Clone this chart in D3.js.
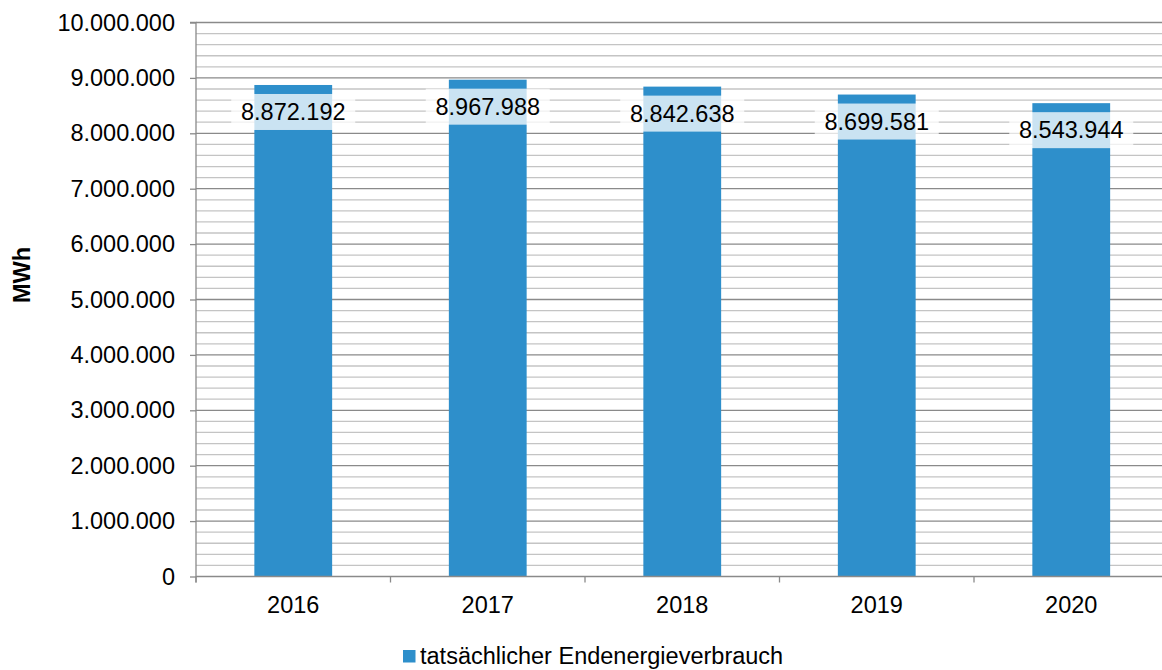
<!DOCTYPE html>
<html>
<head>
<meta charset="utf-8">
<script src="https://cdn.jsdelivr.net/npm/d3@7"></script>
<style>
  html, body { margin: 0; padding: 0; background: #fff; overflow: hidden; }
  svg { display: block; font-family: "Liberation Sans", Arial, sans-serif; }
</style>
</head>
<body>
<svg id="chart" width="1162" height="670"></svg>
<script>
// Endenergieverbrauch je Jahr (MWh)
const years = ["2016", "2017", "2018", "2019", "2020"];
const consumption = [8872192, 8967988, 8842638, 8699581, 8543944];
const yTicks = [0, 1000000, 2000000, 3000000, 4000000, 5000000, 6000000, 7000000, 8000000, 9000000, 10000000];
const seriesName = "tatsächlicher Endenergieverbrauch";
const unitLabel = "MWh";

const svg = d3.select("#chart");
const plotLeft = 196, plotRight = 1168.5, plotTop = 22.5, plotBottom = 576.5;
const fontSize = 23.5;
const barColor = "#2E8FCB";

const x = d3.scaleBand().domain(years).range([plotLeft, plotRight]).paddingInner(0.6).paddingOuter(0.3);
const y = d3.scaleLinear().domain([0, 10000000]).range([plotBottom, plotTop]);

const fmt = d3.formatLocale({ decimal: ",", thousands: ".", grouping: [3], currency: ["", "€"] }).format(",.0f");

// minor gridlines every 200.000
const minor = d3.range(0, 10000001, 200000).filter(v => v % 1000000 !== 0);
svg.append("g").selectAll("line").data(minor).join("line")
  .attr("x1", plotLeft).attr("x2", plotRight)
  .attr("y1", d => y(d)).attr("y2", d => y(d))
  .attr("stroke", "#c4c4c4").attr("stroke-width", 1.3);

// major gridlines
svg.append("g").selectAll("line").data(yTicks.filter(v => v > 0)).join("line")
  .attr("x1", plotLeft).attr("x2", plotRight)
  .attr("y1", d => y(d)).attr("y2", d => y(d))
  .attr("stroke", "#8a8a8a").attr("stroke-width", 1.3);

// bars
svg.append("g").selectAll("rect").data(years).join("rect")
  .attr("x", d => x(d))
  .attr("width", x.bandwidth())
  .attr("y", (d, i) => y(consumption[i]))
  .attr("height", (d, i) => y(0) - y(consumption[i]))
  .attr("fill", barColor);

// y axis
const yAxis = d3.axisLeft(y).tickValues(yTicks).tickFormat(fmt).tickSize(6).tickPadding(15);
const gy = svg.append("g").attr("transform", `translate(${plotLeft},0)`).call(yAxis);
gy.select(".domain").attr("d", `M-6,${plotTop}H0V${plotBottom + 6}`).attr("stroke", "#8a8a8a").attr("stroke-width", 1.3).attr("fill", "none");
gy.selectAll(".tick line").attr("stroke", "#8a8a8a").attr("stroke-width", 1.3);
gy.selectAll(".tick text").attr("font-size", fontSize).attr("fill", "#000")
  .attr("font-family", "Liberation Sans, Arial, sans-serif");

// x axis: category labels with boundary ticks
const gx = svg.append("g");
gx.append("line").attr("x1", plotLeft).attr("x2", plotRight).attr("y1", plotBottom).attr("y2", plotBottom)
  .attr("stroke", "#8a8a8a").attr("stroke-width", 1.3);
const bounds = d3.range(years.length + 1).map(i => plotLeft + i * (plotRight - plotLeft) / years.length);
gx.selectAll("line.b").data(bounds).join("line").attr("class", "b")
  .attr("x1", d => d).attr("x2", d => d).attr("y1", plotBottom).attr("y2", plotBottom + 6)
  .attr("stroke", "#8a8a8a").attr("stroke-width", 1.3);
gx.selectAll("text").data(years).join("text")
  .attr("x", d => x(d) + x.bandwidth() / 2)
  .attr("y", 613)
  .attr("text-anchor", "middle")
  .attr("font-size", fontSize)
  .text(d => d);

// value labels with translucent white background
const lbl = svg.append("g").selectAll("g").data(years).join("g")
  .attr("transform", (d, i) => `translate(${x(d) + x.bandwidth() / 2},${y(consumption[i]) + 27})`);
lbl.append("rect")
  .attr("x", -62).attr("y", -18).attr("width", 124).attr("height", 36)
  .attr("fill", "#fff").attr("fill-opacity", 0.75);
lbl.append("text")
  .attr("text-anchor", "middle")
  .attr("dy", "0.35em")
  .attr("font-size", fontSize)
  .text((d, i) => fmt(consumption[i]));

// unit title
svg.append("text")
  .attr("transform", "translate(30,275) rotate(-90)")
  .attr("text-anchor", "middle")
  .attr("font-size", fontSize)
  .attr("font-weight", "bold")
  .text(unitLabel);

// legend
const lg = svg.append("g").attr("transform", "translate(403,650)");
lg.append("rect").attr("width", 12.5).attr("height", 12.5).attr("fill", barColor);
lg.append("text").attr("x", 17).attr("y", 14).attr("font-size", fontSize).text(seriesName);
</script>
</body>
</html>
